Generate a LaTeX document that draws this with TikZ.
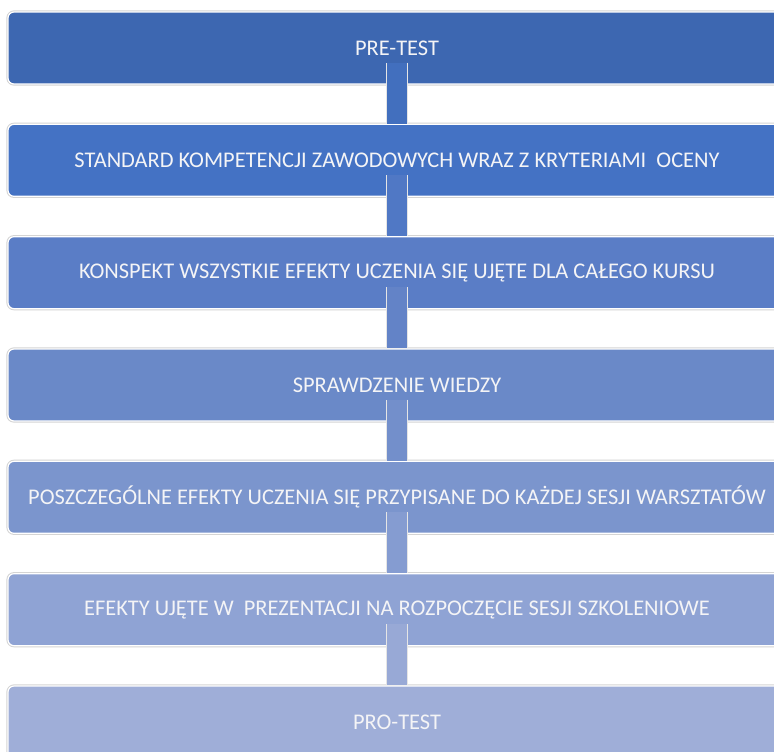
\documentclass[tikz,border=0pt]{standalone}
\usepackage{fontspec}
\setmainfont{Carlito}
\usetikzlibrary{calc}
\definecolor{cA}{RGB}{61,103,177}
\definecolor{cB}{RGB}{68,114,196}
\definecolor{cC}{RGB}{90,125,198}
\definecolor{cD}{RGB}{106,137,200}
\definecolor{cE}{RGB}{123,149,205}
\definecolor{cF}{RGB}{143,163,212}
\definecolor{cG}{RGB}{159,174,216}
\definecolor{kA}{RGB}{66,111,190}
\definecolor{kB}{RGB}{80,120,197}
\definecolor{kC}{RGB}{99,131,199}
\definecolor{kD}{RGB}{115,143,203}
\definecolor{kE}{RGB}{133,156,209}
\definecolor{kF}{RGB}{152,169,214}
\definecolor{txt}{RGB}{244,244,246}
\tikzset{
  stagebox/.style={rectangle, rounded corners=4.5pt,
    minimum width=583.5pt, minimum height=54pt, inner sep=0pt,
    fill=#1, draw=white, line width=0.9pt,
    preaction={draw=black!17, line width=2.4pt},
    text=txt, font=\fontsize{16.8}{20}\selectfont},
  linkbar/.style={draw=#1, line width=15pt, line cap=butt,
    preaction={draw=black!10, line width=16.5pt}}
}
\begin{document}
\begin{tikzpicture}[x=0.75pt,y=-0.75pt]
\useasboundingbox (0,0) rectangle (774,751);
\clip (0,0) rectangle (774,751);
\fill[white] (0,0) rectangle (774,751);
\node[stagebox=cA] (b1) at (397,48) {PRE-TEST};
\node[stagebox=cB] (b2) at (397,160.3) {STANDARD KOMPETENCJI ZAWODOWYCH WRAZ Z KRYTERIAMI\ \ OCENY};
\node[stagebox=cC] (b3) at (397,272.7) {KONSPEKT WSZYSTKIE EFEKTY UCZENIA SIĘ UJĘTE DLA CAŁEGO KURSU};
\node[stagebox=cD] (b4) at (397,385) {SPRAWDZENIE WIEDZY};
\node[stagebox=cE] (b5) at (397,497.3) {POSZCZEGÓLNE EFEKTY UCZENIA SIĘ PRZYPISANE DO KAŻDEJ SESJI WARSZTATÓW};
\node[stagebox=cF] (b6) at (397,609.7) {EFEKTY UJĘTE W\ \ PREZENTACJI NA ROZPOCZĘCIE SESJI SZKOLENIOWE};
\node[stagebox=cG] (b7) at (397,722) {PRO-TEST};
\draw[linkbar=kA] ($(b1.south)+(0,-22)$) -- (b2.north);
\draw[linkbar=kB] ($(b2.south)+(0,-22)$) -- (b3.north);
\draw[linkbar=kC] ($(b3.south)+(0,-22)$) -- (b4.north);
\draw[linkbar=kD] ($(b4.south)+(0,-22)$) -- (b5.north);
\draw[linkbar=kE] ($(b5.south)+(0,-22)$) -- (b6.north);
\draw[linkbar=kF] ($(b6.south)+(0,-22)$) -- (b7.north);
\end{tikzpicture}
\end{document}
